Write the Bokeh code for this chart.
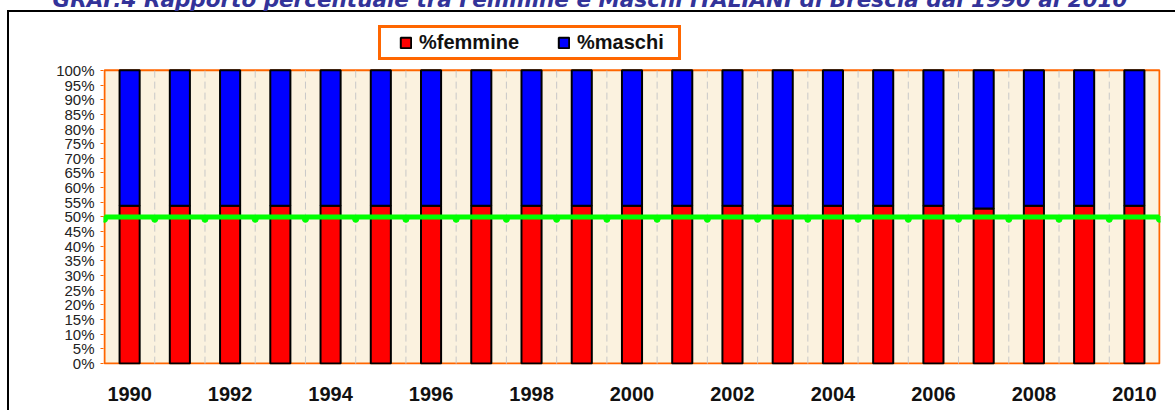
from bokeh.plotting import figure
from bokeh.models import (ColumnDataSource, FixedTicker, Legend, LegendItem,
                          Range1d)
from bokeh.transform import dodge
from bokeh.embed import file_html
from bokeh.resources import INLINE

# ---------------- data ----------------
years = [1990, 1991, 1992, 1993, 1994, 1995, 1996, 1997, 1998, 1999, 2000,
         2001, 2002, 2003, 2004, 2005, 2006, 2007, 2008, 2009, 2010]
femmine = [53.8, 53.8, 53.8, 53.8, 53.8, 53.8, 53.8, 53.8, 53.8, 53.8, 53.8,
           53.8, 53.8, 53.8, 53.8, 53.8, 53.8, 52.9, 53.8, 53.8, 53.8]
maschi = [46.2, 46.2, 46.2, 46.2, 46.2, 46.2, 46.2, 46.2, 46.2, 46.2, 46.2,
          46.2, 46.2, 46.2, 46.2, 46.2, 46.2, 47.1, 46.2, 46.2, 46.2]
parita = [50, 50, 50, 50, 50, 50, 50, 50, 50, 50, 50,
          50, 50, 50, 50, 50, 50, 50, 50, 50, 50, 50]
y_ticks = [0, 5, 10, 15, 20, 25, 30, 35, 40, 45, 50,
           55, 60, 65, 70, 75, 80, 85, 90, 95, 100]
title_text = "GRAF.4  Rapporto percentuale tra Femmine e Maschi ITALIANI di Brescia dal 1990 al 2010"
legend_labels = ["%femmine", "%maschi"]

# ---------------- sources ----------------
idx = list(range(len(years)))
bars = ColumnDataSource(dict(
    x=idx,
    f=femmine,
    top=[f + m for f, m in zip(femmine, maschi)],
))
bounds = [i - 0.5 for i in range(len(years) + 1)]
line_src = ColumnDataSource(dict(x=bounds, y=parita))
inner = bounds[1:-1]
grid_src = ColumnDataSource(dict(x=inner, y0=[y_ticks[0]] * len(inner),
                                 y1=[y_ticks[-1]] * len(inner)))

W, H = 1175, 410
S = 28            # canvas starts S px above the window, so the title is cut
ORANGE = "#FF6600"
# the frame reaches up to the legend; the 0-100 % plot area is drawn inside it
p = figure(width=W, height=H + S, output_backend="svg", toolbar_location=None,
           x_range=Range1d(bounds[0] - 0.02, bounds[-1] + 0.02),
           y_range=Range1d(-0.3, 117.0),
           min_border_left=103, min_border_right=15,
           min_border_top=20 + S, min_border_bottom=46,
           background_fill_color="white", border_fill_alpha=0)
p.outline_line_color = None
# page-level black frame (top and left edges) painted behind the transparent border
p.styles = {
    "position": "absolute", "left": "0px", "top": f"-{S}px",
    "background": (f"linear-gradient(#000, #000) 7px {10 + S}px / 2px 100% no-repeat, "
                   f"linear-gradient(#000, #000) 7px {10 + S}px / 100% 2px no-repeat, #fff"),
}

# plot area (cream with orange border)
p.quad(left=bounds[0], right=bounds[-1], bottom=y_ticks[0], top=y_ticks[-1],
       fill_color="#FBF2DF", line_color=ORANGE, line_width=2)

# grids
p.xgrid.visible = False
p.ygrid.visible = False
p.segment(x0="x", x1="x", y0="y0", y1="y1", source=grid_src,
          line_color="#C8C8C8", line_dash="7 4", line_width=1)

# bars
r_f = p.vbar(x="x", bottom=0, top="f", width=0.4, source=bars,
             fill_color="#FF0000", line_color="black", line_width=2)
r_m = p.vbar(x="x", bottom="f", top="top", width=0.4, source=bars,
             fill_color="#0000FF", line_color="black", line_width=2)

# 50% line
p.line("x", "y", source=line_src, line_color="#00FF00", line_width=5)
p.scatter(x="x", y=dodge("y", -0.8, range=p.y_range), source=line_src,
          marker="circle", size=6, fill_color="#00FF00", line_color="#00FF00")

# axes
p.yaxis.ticker = FixedTicker(ticks=y_ticks)
p.yaxis.major_label_overrides = {t: f"{t}%" for t in y_ticks}
p.yaxis.major_label_text_font = "Liberation Sans"
p.yaxis.major_label_text_font_size = "15px"
p.yaxis.major_label_text_color = "#222222"
p.yaxis.axis_line_color = None
p.yaxis.major_tick_line_color = ORANGE
p.yaxis.major_tick_out = 3
p.yaxis.major_tick_in = 0
p.yaxis.minor_tick_line_color = None
p.yaxis.major_label_standoff = 6

p.xaxis.ticker = FixedTicker(ticks=idx[::2])
p.xaxis.major_label_overrides = {i: str(y) for i, y in zip(idx, years)}
p.xaxis.major_label_text_font = "Liberation Sans"
p.xaxis.major_label_text_font_style = "bold"
p.xaxis.major_label_text_font_size = "20px"
p.xaxis.major_label_text_color = "#111111"
p.xaxis.axis_line_color = None
p.xaxis.major_tick_line_color = None
p.xaxis.major_tick_out = 0
p.xaxis.major_tick_in = 0
p.xaxis.minor_tick_line_color = None
p.xaxis.major_label_standoff = 22

# legend (inside the tall frame, above the plot area)
legend = Legend(items=[LegendItem(label=legend_labels[0], renderers=[r_f]),
                       LegendItem(label=legend_labels[1], renderers=[r_m])],
                orientation="horizontal", location=(275, 304),
                padding=3, spacing=38, label_standoff=7, label_width=98,
                title=" ", title_location="left", title_standoff=14,
                title_text_font_size="1px", title_text_font_style="normal",
                glyph_width=13, glyph_height=13,
                label_text_font="Liberation Sans", label_text_font_style="bold",
                label_text_font_size="20px", label_text_color="#111111",
                border_line_color=ORANGE, border_line_width=3,
                border_line_alpha=1,
                background_fill_color="white", background_fill_alpha=1)
p.add_layout(legend, "center")

# title (cut at the top of the picture)
p.title.text = title_text
p.title.align = "left"
p.title.offset = -51
p.title.standoff = 17
p.title.text_font = "DejaVu Sans"
p.title.text_font_style = "bold italic"
p.title.text_font_size = "21.5px"
p.title.text_color = "#333399"

open("out.html", "w").write(file_html(p, INLINE))
